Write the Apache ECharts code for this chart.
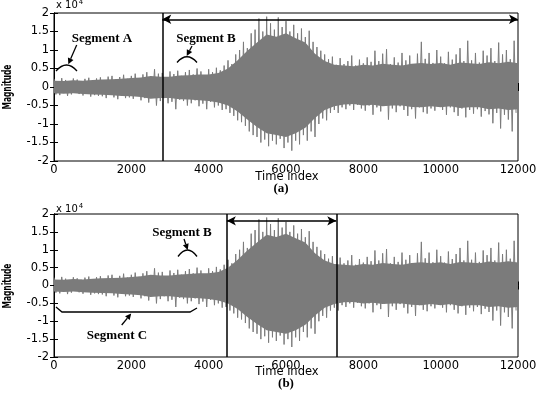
<!DOCTYPE html>
<html>
<head>
<meta charset="utf-8">
<script src="https://cdn.jsdelivr.net/npm/echarts@6/dist/echarts.min.js"></script>
<style>
  html, body { margin: 0; padding: 0; background: #fff; }
  #chart { width: 546px; height: 396px; }
</style>
</head>
<body>
<div id="chart"></div>
<script>
// spike envelope of the signal (x 10^4), one hi/lo pair per 100 samples
const step = 100
const hiEnv = [
  0.22, 0.15, 0.24, 0.19, 0.12, 0.23, 0.2, 0.16, 0.22, 0.25, 0.14, 0.23,
  0.26, 0.18, 0.28, 0.3, 0.2, 0.27, 0.33, 0.22,
  0.3, 0.36, 0.24, 0.34, 0.4, 0.28, 0.48, 0.36,
  0.38, 0.26, 0.42, 0.35, 0.44, 0.3, 0.4, 0.46,
  0.34, 0.5, 0.42, 0.32, 0.48, 0.4, 0.52, 0.45,
  0.58, 0.72, 0.62, 0.88,
  1.0, 1.22, 1.05, 1.45,
  1.55, 1.85, 1.5, 1.9,
  1.72, 1.55, 1.88, 1.62,
  1.78, 1.5, 1.68, 1.45,
  1.58, 1.35, 1.52, 1.22,
  1.08, 0.98, 0.88, 0.75,
  0.82, 0.6, 0.78, 0.62,
  0.7, 0.85, 0.58, 0.74,
  0.64, 0.8, 0.68, 0.98,
  0.7, 0.9, 1.02, 0.62,
  0.8, 0.66, 0.92, 0.72,
  0.85, 0.6, 0.9, 1.22,
  0.76, 0.92, 0.65, 1.0,
  0.82, 0.64, 0.95, 0.74,
  0.88, 1.05, 0.7, 1.25,
  0.72, 0.92, 0.66, 0.98,
  0.85, 1.05, 0.7, 1.2,
  0.88, 1.0, 0.75, 1.25
]
const loEnv = [
  -0.2, -0.22, -0.14, -0.24, -0.2, -0.13, -0.19, -0.23, -0.15, -0.26, -0.22, -0.24,
  -0.25, -0.3, -0.18, -0.28, -0.33, -0.2, -0.3, -0.28,
  -0.32, -0.22, -0.36, -0.3, -0.42, -0.26, -0.5, -0.38,
  -0.3, -0.44, -0.4, -0.6, -0.34, -0.38, -0.5, -0.44,
  -0.36, -0.52, -0.45, -0.6, -0.4, -0.55, -0.5, -0.62,
  -0.6, -0.7, -0.78, -0.9,
  -0.95, -1.05, -1.2, -1.3,
  -1.35, -1.5, -1.42, -1.6,
  -1.45, -1.55, -1.4, -1.65,
  -1.5, -1.72, -1.45, -1.55,
  -1.3, -1.45, -1.2, -1.35,
  -1.0, -0.85, -0.9, -0.7,
  -0.62, -0.7, -0.55, -0.6,
  -0.5, -0.62, -0.48, -0.58,
  -0.64, -0.5, -0.75, -0.55,
  -0.66, -0.5, -0.88, -0.58,
  -0.68, -0.52, -0.62, -0.78,
  -0.6, -0.85, -0.55, -0.68,
  -0.72, -0.58, -0.64, -0.5,
  -0.62, -0.75, -0.55, -0.68,
  -0.78, -0.58, -0.82, -0.62,
  -0.72, -0.6, -0.8, -0.65,
  -0.74, -0.98, -0.7, -1.12,
  -0.75, -0.88, -1.2, -0.7
]

// dense body of the signal (x 10^4), every 250 samples from 0 to 12000
const bulkStep = 250
const hiBulk = [
  0.17, 0.16, 0.18, 0.17, 0.19, 0.2, 0.21, 0.22, 0.24, 0.26, 0.3, 0.28,
  0.28, 0.31, 0.32, 0.34, 0.34, 0.38, 0.5, 0.72, 0.98, 1.2, 1.42, 1.36,
  1.45, 1.32, 1.2, 0.9, 0.7, 0.6, 0.58, 0.56, 0.6, 0.58, 0.63, 0.6,
  0.58, 0.63, 0.65, 0.62, 0.65, 0.6, 0.66, 0.64, 0.62, 0.67, 0.64, 0.68, 0.64
]
const loBulk = [
  -0.17, -0.18, -0.17, -0.19, -0.2, -0.21, -0.22, -0.24, -0.25, -0.27, -0.32, -0.3,
  -0.3, -0.33, -0.34, -0.36, -0.38, -0.42, -0.5, -0.66, -0.88, -1.08, -1.25, -1.3,
  -1.35, -1.25, -1.1, -0.84, -0.62, -0.52, -0.47, -0.46, -0.5, -0.48, -0.52, -0.5,
  -0.5, -0.54, -0.55, -0.52, -0.55, -0.52, -0.57, -0.55, -0.55, -0.6, -0.58, -0.62, -0.6
]

// segment boundaries
const markA = [2800]
const spanA = [2800, 12000]
const arrowYA = 1.83
const markB = [4470, 7300]
const spanB = [4470, 7300]
const arrowYB = 1.81

const grids = [
  { left: 54, top: 13, width: 464, height: 148 },
  { left: 54, top: 214, width: 464, height: 143 }
]

const wave = []
hiEnv.forEach((h, i) => {
  wave.push([i * step, h])
  wave.push([i * step + step / 2, loEnv[i]])
})
const bodyHi = hiBulk.map((v, i) => [i * bulkStep, v])
const bodyLo = loBulk.map((v, i) => [i * bulkStep, v])

const grey = '#7b7b7b'
const tickFont = { color: '#000', fontSize: 11.5, fontFamily: 'DejaVu Sans', formatter: v => String(v) }

function xAxes(gi) {
  return [
    {
      gridIndex: gi, type: 'value', min: 0, max: 12000, interval: 2000,
      axisLine: { lineStyle: { color: '#000' } },
      axisTick: { inside: true, length: 4, lineStyle: { color: '#000' } },
      axisLabel: { ...tickFont, margin: 3 },
      splitLine: { show: false }
    },
    {
      gridIndex: gi, type: 'value', position: 'top', min: 0, max: 12000, interval: 2000,
      axisLine: { lineStyle: { color: '#000' } },
      axisTick: { inside: true, length: 4, lineStyle: { color: '#000' } },
      axisLabel: { show: false }, splitLine: { show: false }
    }
  ]
}
function yAxes(gi) {
  return [
    {
      gridIndex: gi, type: 'value', min: -2, max: 2, interval: 0.5,
      axisLine: { lineStyle: { color: '#000' } },
      axisTick: { inside: true, length: 4, lineStyle: { color: '#000' } },
      axisLabel: { ...tickFont, margin: 5 },
      splitLine: { show: false }
    },
    {
      gridIndex: gi, type: 'value', position: 'right', min: -2, max: 2, interval: 0.5,
      axisLine: { lineStyle: { color: '#000' } },
      axisTick: { inside: true, length: 4, lineStyle: { color: '#000' } },
      axisLabel: { show: false }, splitLine: { show: false }
    }
  ]
}

function seriesFor(gi, marks, span, y) {
  const xi = gi * 2, yi = gi * 2
  return [
    {
      // dense body: one polygon through the upper then the lower envelope
      type: 'custom', xAxisIndex: xi, yAxisIndex: yi, data: bodyHi, silent: true,
      encode: { x: 0, y: 1 },
      renderItem: (params, api) => {
        if (params.dataIndex !== 0) return
        const pts = bodyHi.map(p => api.coord(p)).concat(bodyLo.slice().reverse().map(p => api.coord(p)))
        return { type: 'polygon', shape: { points: pts }, style: { fill: grey } }
      }
    },
    {
      type: 'line', xAxisIndex: xi, yAxisIndex: yi, data: wave,
      showSymbol: false, sampling: null, silent: true,
      lineStyle: { color: grey, width: 1 },
      markLine: {
        silent: true, symbol: ['none', 'none'],
        label: { show: false },
        lineStyle: { color: '#000', type: 'solid', width: 1.5 },
        data: marks.map(m => ({ xAxis: m }))
      }
    },
    {
      type: 'line', xAxisIndex: xi, yAxisIndex: yi, data: [],
      markLine: {
        silent: true, symbol: ['arrow', 'arrow'], symbolSize: [7, 9],
        label: { show: false },
        lineStyle: { color: '#000', type: 'solid', width: 1.5 },
        data: [[{ coord: [span[0], y] }, { coord: [span[1], y] }]]
      }
    }
  ]
}

// annotation helpers (pixel space)
const serif = { fontFamily: 'Liberation Serif', fontWeight: 'bold', fontSize: 13, fill: '#000' }
function label(text, x, y) {
  return { type: 'text', x: x, y: y, style: { text: text, ...serif, align: 'center', verticalAlign: 'middle' } }
}
function arrow(x1, y1, x2, y2) {
  const a = Math.atan2(y2 - y1, x2 - x1)
  const L = 6, W = 3
  const bx = x2 - L * Math.cos(a), by = y2 - L * Math.sin(a)
  return [
    { type: 'line', shape: { x1: x1, y1: y1, x2: bx, y2: by }, style: { stroke: '#000', lineWidth: 1.3 } },
    { type: 'polygon', shape: { points: [[x2, y2], [bx - W * Math.sin(a), by + W * Math.cos(a)], [bx + W * Math.sin(a), by - W * Math.cos(a)]] }, style: { fill: '#000' } }
  ]
}
function arc(x1, x2, yEnd, cpY) {
  return { type: 'bezierCurve', shape: { x1: x1, y1: yEnd, x2: x2, y2: yEnd, cpx1: (x1 + x2) / 2, cpy1: cpY }, style: { stroke: '#000', lineWidth: 1.3, fill: null } }
}
function magnitude(y) {
  return { type: 'text', x: 8, y: y, rotation: Math.PI / 2, scaleX: 0.62, style: { text: 'Magnitude', fontFamily: 'DejaVu Sans', fontWeight: 'bold', fontSize: 12, fill: '#000', align: 'center', verticalAlign: 'middle' } }
}
function exponent(y) {
  return {
    type: 'text', x: 56, y: y,
    style: {
      text: '{a|x 10}{b|4}', fill: '#000', verticalAlign: 'middle',
      rich: { a: { fontFamily: 'DejaVu Sans', fontSize: 10, fill: '#000' }, b: { fontFamily: 'DejaVu Sans', fontSize: 7, fill: '#000', padding: [0, 0, 6, 1] } }
    }
  }
}
function axisTitle(y) {
  return { type: 'text', x: 287, y: y, style: { text: 'Time index', fontFamily: 'DejaVu Sans', fontSize: 11.5, fill: '#000', align: 'center', verticalAlign: 'middle' } }
}

const graphic = [
  exponent(5), exponent(209),
  magnitude(87), magnitude(286),
  axisTitle(177), axisTitle(372),
  label('(a)', 281, 189),
  label('(b)', 286, 384),
  label('Segment A', 102, 39),
  label('Segment B', 206, 39),
  label('Segment B', 182, 233),
  label('Segment C', 117, 336),
  arc(56, 77, 71, 59),
  arc(177, 197, 62.5, 51),
  arc(178, 197, 256.5, 243.5),
  ...arrow(76.7, 45, 68.3, 64.3),
  ...arrow(192, 46, 186.7, 56),
  ...arrow(184, 239, 187.7, 250),
  { type: 'polyline', shape: { points: [[56, 307], [62, 312], [190, 312], [197, 308]] }, style: { stroke: '#000', lineWidth: 1.3, fill: null } },
  ...arrow(121.7, 325, 131.2, 313.5)
]

const chart = echarts.init(document.getElementById('chart'))
chart.setOption({
  animation: false,
  grid: grids.map(g => ({ ...g, show: true, borderColor: '#000', borderWidth: 1, backgroundColor: '#fff' })),
  xAxis: [...xAxes(0), ...xAxes(1)],
  yAxis: [...yAxes(0), ...yAxes(1)],
  series: [
    ...seriesFor(0, markA, spanA, arrowYA),
    ...seriesFor(1, markB, spanB, arrowYB)
  ],
  graphic: graphic
})
</script>
</body>
</html>
